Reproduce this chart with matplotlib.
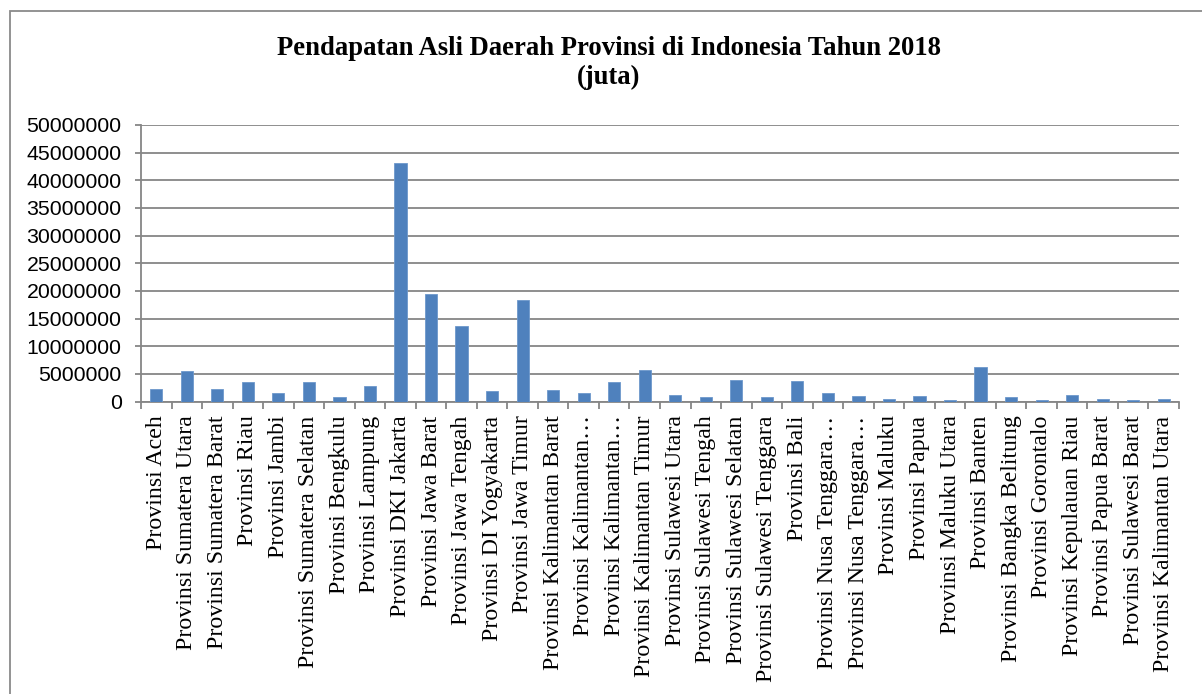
import matplotlib
matplotlib.use("Agg")
import matplotlib.pyplot as plt
from matplotlib.patches import Rectangle

provinces = [
    "Provinsi Aceh", "Provinsi Sumatera Utara", "Provinsi Sumatera Barat", "Provinsi Riau",
    "Provinsi Jambi", "Provinsi Sumatera Selatan", "Provinsi Bengkulu", "Provinsi Lampung",
    "Provinsi DKI Jakarta", "Provinsi Jawa Barat", "Provinsi Jawa Tengah", "Provinsi DI Yogyakarta",
    "Provinsi Jawa Timur", "Provinsi Kalimantan Barat", "Provinsi Kalimantan…", "Provinsi Kalimantan…",
    "Provinsi Kalimantan Timur", "Provinsi Sulawesi Utara", "Provinsi Sulawesi Tengah",
    "Provinsi Sulawesi Selatan", "Provinsi Sulawesi Tenggara", "Provinsi Bali",
    "Provinsi Nusa Tenggara…", "Provinsi Nusa Tenggara…", "Provinsi Maluku", "Provinsi Papua",
    "Provinsi Maluku Utara", "Provinsi Banten", "Provinsi Bangka Belitung", "Provinsi Gorontalo",
    "Provinsi Kepulauan Riau", "Provinsi Papua Barat", "Provinsi Sulawesi Barat",
    "Provinsi Kalimantan Utara",
]
pad_values = [
    2250000, 5570000, 2200000, 3570000, 1580000, 3450000, 850000, 2800000,
    43200000, 19500000, 13700000, 1950000, 18400000, 2100000, 1550000, 3450000,
    5750000, 1150000, 900000, 3880000, 800000, 3650000, 1500000, 1000000,
    450000, 950000, 300000, 6250000, 750000, 300000, 1150000, 400000,
    250000, 500000,
]
y_ticks = list(range(0, 50000001, 5000000))
title_text = "Pendapatan Asli Daerah Provinsi di Indonesia Tahun 2018\n(juta)"

W, H = 1202, 694
fig = plt.figure(figsize=(W / 100, H / 100), dpi=100)
fig.patch.set_facecolor("white")

# outer chart border
fig.patches.append(Rectangle((10 / W, -0.05), 1.1, 1 - 11 / H + 0.05, transform=fig.transFigure,
                             fill=False, edgecolor="#8a8a8a", linewidth=1.3))

ax = fig.add_axes([141 / W, 1 - 401.5 / H, (1179 - 141) / W, (401.5 - 125) / H])
x = list(range(len(provinces)))
ax.bar(x, pad_values, width=0.4, color="#4F81BD", edgecolor="#6d98cc", linewidth=0.6, zorder=3)

ax.set_xlim(-0.5, len(provinces) - 0.5)
ax.set_ylim(0, 50000000)
ax.set_yticks(y_ticks)
ax.set_yticklabels([str(v) for v in y_ticks])
ax.yaxis.grid(True, color="#868686", linewidth=1.3, zorder=0)
ax.set_axisbelow(True)

for s in ["top", "right"]:
    ax.spines[s].set_visible(False)
for s in ["left", "bottom"]:
    ax.spines[s].set_color("#868686")
    ax.spines[s].set_linewidth(1.3)

ax.set_xticks(x)
ax.set_xticklabels(provinces, rotation=90, ha="center", va="top",
                   fontfamily="Liberation Serif", fontsize=17.2)
ax.set_xticks([i - 0.5 for i in range(len(provinces) + 1)], minor=True)
ax.tick_params(axis="x", which="major", length=0, pad=10)
ax.tick_params(axis="x", which="minor", length=5, width=1.3, color="#868686", direction="out")
ax.tick_params(axis="y", length=4, width=1.3, color="#868686", pad=10)
for lbl in ax.get_yticklabels():
    lbl.set_fontfamily("Liberation Sans")
    lbl.set_fontsize(15.3)

fig.text(0.5065, 1 - 63 / H, title_text, ha="center", va="center", fontfamily="Liberation Serif",
         fontweight="bold", fontsize=19.2, linespacing=1.2)

fig.savefig("out.png", dpi=100)
